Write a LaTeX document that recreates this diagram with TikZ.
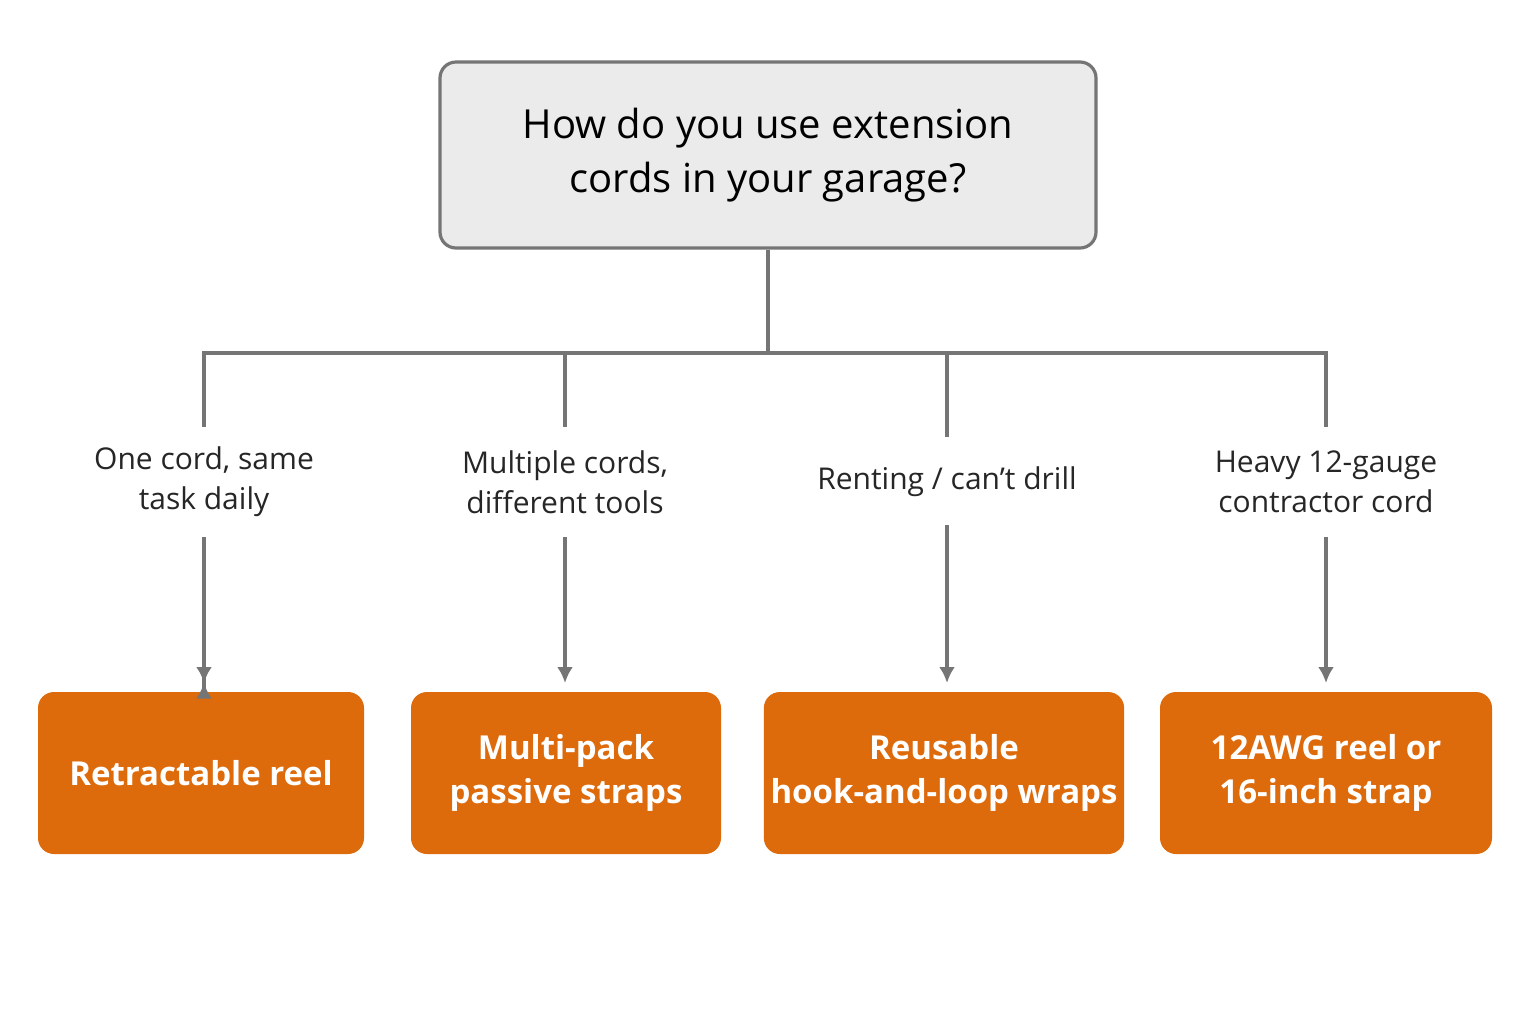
\documentclass[tikz,border=0pt]{standalone}
\usepackage{fontspec}
\setmainfont{Open Sans}
\usetikzlibrary{positioning}
\definecolor{boxgray}{HTML}{EBEBEB}
\definecolor{linegray}{HTML}{757575}
\definecolor{cordorange}{HTML}{DD6A0B}
\tikzset{
  question/.style={draw=linegray, line width=1.6pt, fill=boxgray, rounded corners=8pt,
    minimum width=328pt, minimum height=93pt, align=center, font=\fontsize{20}{27}\selectfont},
  answer/.style={font=\fontsize{15}{20}\selectfont, align=center, text=black!85},
  pick/.style={fill=cordorange, rounded corners=8pt, minimum height=81pt, align=center,
    text=white, font=\bfseries\fontsize{16.5}{22}\selectfont},
  wire/.style={draw=linegray, line width=1.6pt},
  arrow/.style={wire, -{Latex[length=8pt,width=8pt]}}
}
\usetikzlibrary{arrows.meta}
\begin{document}
\begin{tikzpicture}[x=0.5pt,y=-0.5pt]
	\useasboundingbox[fill=white] (0,0) rectangle (1536,1024);
	%question
		\node[question] (q) at (768,155) {How do you use extension\\cords in your garage?};
	%answers
		\node[answer] (a1) at (204,482) {One cord, same\\task daily};
		\node[answer] (a2) at (565,482) {Multiple cords,\\different tools};
		\node[answer] (a3) at (947,482) {Renting / can't drill};
		\node[answer] (a4) at (1326,482) {Heavy 12-gauge\\contractor cord};
	%picks
		\node[pick, minimum width=163pt] (p1) at (201,773) {Retractable reel};
		\node[pick, minimum width=155pt] (p2) at (566,773) {Multi-pack\\passive straps};
		\node[pick, minimum width=170pt] (p3) at (944,773) {Reusable\\hook-and-loop wraps};
		\node[pick, minimum width=166pt] (p4) at (1326,773) {12AWG reel or\\16-inch strap};
	%tree
		\coordinate (hub) at (768,353);
		\draw[wire] (q.south) -- (hub);
		\draw[wire] (204,427) -- (204,353) -- (1326,353) -- (1326,427);
		\draw[wire] (565,353) -- (565,427);
		\draw[wire] (947,353) -- (947,437);
	%arrows
		\draw[arrow] (204,537) -- (p1.north -| 204,0) ++(0,-9);
		\draw[arrow] (a1.south |- 0,537) -- (204,683);
		\draw[arrow] (565,537) -- (565,683);
		\draw[arrow] (947,525) -- (947,683);
		\draw[arrow] (1326,537) -- (1326,683);
\end{tikzpicture}
\end{document}
